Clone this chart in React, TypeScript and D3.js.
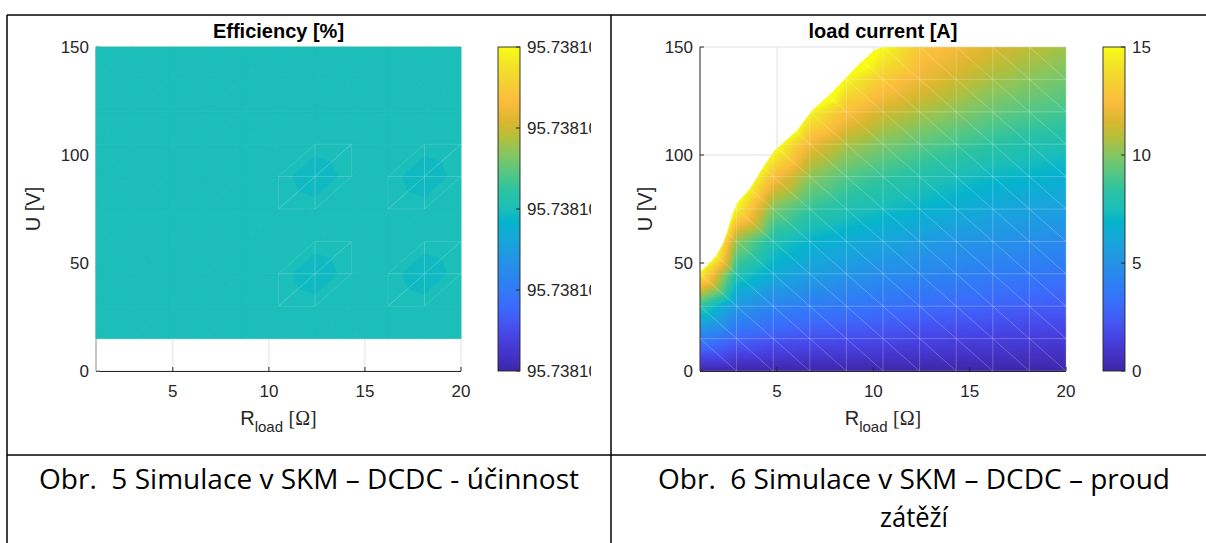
import React, { useMemo } from "react";
import * as d3 from "d3";

// ---- sweep grid -------------------------------------------------------------
// load resistance [Ω] and input voltage [V] of the SKM DC/DC simulation
const loadR = [1, 2.9, 4.8, 6.7, 8.6, 10.5, 12.4, 14.3, 16.2, 18.1, 20];
const voltU = [0, 15, 30, 45, 60, 75, 90, 105, 120, 135, 150];
const effVoltU = [15, 30, 45, 60, 75, 90, 105, 120, 135, 150];

// efficiency [%], one row per voltage in effVoltU, one column per loadR
const efficiency: number[][] = [
  [95.7381, 95.7381, 95.7381, 95.7381, 95.7381, 95.7381, 95.7381, 95.7381, 95.7381, 95.7381, 95.7381],
  [95.7381, 95.7381, 95.7381, 95.7381, 95.7381, 95.7381, 95.7381, 95.7381, 95.7381, 95.7381, 95.7381],
  [95.7381, 95.7381, 95.7381, 95.7381, 95.7381, 95.7381, 95.738099996, 95.7381, 95.7381, 95.738099996, 95.7381],
  [95.7381, 95.7381, 95.7381, 95.7381, 95.7381, 95.7381, 95.7381, 95.7381, 95.7381, 95.7381, 95.7381],
  [95.7381, 95.7381, 95.7381, 95.7381, 95.7381, 95.7381, 95.7381, 95.7381, 95.7381, 95.7381, 95.7381],
  [95.7381, 95.7381, 95.7381, 95.7381, 95.7381, 95.7381, 95.738099996, 95.7381, 95.7381, 95.738099996, 95.7381],
  [95.7381, 95.7381, 95.7381, 95.7381, 95.7381, 95.7381, 95.7381, 95.7381, 95.7381, 95.7381, 95.7381],
  [95.7381, 95.7381, 95.7381, 95.7381, 95.7381, 95.7381, 95.7381, 95.7381, 95.7381, 95.7381, 95.7381],
  [95.7381, 95.7381, 95.7381, 95.7381, 95.7381, 95.7381, 95.7381, 95.7381, 95.7381, 95.7381, 95.7381],
  [95.7381, 95.7381, 95.7381, 95.7381, 95.7381, 95.7381, 95.7381, 95.7381, 95.7381, 95.7381, 95.7381],
];
const effLimits = [95.7380999, 95.7381001];
const effTicks = [95.7380999, 95.73809995, 95.7381, 95.73810005, 95.7381001];

// load current [A], one row per voltage in voltU, one column per loadR.
// Entries above 15 A lie past the current limit and are cut away by the limit edge below.
const loadCurrent: number[][] = [
  [0, 0, 0, 0, 0, 0, 0, 0, 0, 0, 0],
  [4.0, 2.8, 2.3, 2.05, 1.9, 1.8, 1.6, 1.45, 1.35, 1.25, 1.2],
  [8.3, 5.3, 4.3, 3.9, 3.6, 3.35, 3.1, 2.9, 2.7, 2.55, 2.45],
  [14.7, 8.0, 6.4, 5.7, 5.2, 4.8, 4.5, 4.2, 3.9, 3.7, 3.5],
  [20.5, 10.2, 7.8, 6.9, 6.4, 6.0, 5.6, 5.2, 5.0, 4.8, 4.65],
  [26, 14.6, 9.9, 8.5, 7.8, 7.3, 6.9, 6.5, 6.1, 5.9, 5.7],
  [31, 17.5, 12.6, 10.2, 9.1, 8.5, 8.0, 7.5, 7.1, 6.9, 6.7],
  [36, 21, 15.6, 12.1, 10.7, 9.9, 9.3, 8.8, 8.3, 7.9, 7.7],
  [41, 24, 20, 14.8, 12.6, 11.4, 10.7, 10.1, 9.5, 9.1, 8.8],
  [46, 27, 23, 19, 14.8, 13.1, 12.1, 11.3, 10.6, 10.1, 9.7],
  [51, 30, 26, 23, 17.7, 15.0, 13.0, 12.3, 11.6, 11.0, 10.5],
];
// edge of the valid region (current reaches the 15 A limit)
const limitR = [1, 1.5, 1.85, 2.2, 2.45, 2.7, 2.95, 3.6, 4.25, 4.85, 6.05, 6.8, 7.8, 8.6, 9.2, 10.05, 10.5];
const limitU = [46, 50, 53.5, 59, 65.5, 73, 78, 84.5, 94, 102, 111.5, 120.5, 128.5, 136, 141.5, 148.5, 150];
const curLimits = [0, 15];
const curTicks = [0, 5, 10, 15];

const xTicks = [5, 10, 15, 20];
const yTicks = [0, 50, 100, 150];

// ---- colour map (parula) ---------------------------------------------------
const parulaPos = [0, 0.05, 0.1, 0.15, 0.2, 0.27, 0.33, 0.4, 0.46, 0.5, 0.55, 0.6, 0.67, 0.72, 0.77, 0.83, 0.9, 0.95, 1];
const parulaHex = [
  "#3e26a8", "#4433c7", "#4642e2", "#4456f3", "#3b6bfb", "#2d80f3", "#2591e8", "#17a5db", "#05b4cc",
  "#1bbeb8", "#28c2a4", "#4cc78a", "#86c660", "#b3bf3b", "#dbb72f", "#fbbc3d", "#f4d430", "#f3e626", "#f9fb14",
];
const parula = d3
  .scaleLinear<string>()
  .domain(parulaPos)
  .range(parulaHex)
  .interpolate(d3.interpolateRgb)
  .clamp(true);

// ---- layout -----------------------------------------------------------------
const W = 1206;
const H = 543;
const PY0 = 47;
const PY1 = 371;
const FONT = "'Liberation Sans', Arial, Helvetica, sans-serif";
const INK = "#262626";

const L = { x0: 96, x1: 461, cbX: 498, labelX: 40 };
const Rt = { x0: 700, x1: 1066, cbX: 1103, labelX: 652 };
const CBW = 22;

const yScale = d3.scaleLinear().domain([0, 150]).range([PY1, PY0]);
const xLeft = d3.scaleLinear().domain([1, 20]).range([L.x0, L.x1]);
const xRight = d3.scaleLinear().domain([1, 20]).range([Rt.x0, Rt.x1]);

// linear interpolation on the triangulated grid ("\" diagonals)
function currentAt(R: number, U: number): number {
  const n = loadR.length;
  const m = voltU.length;
  const i = Math.max(0, Math.min(n - 2, d3.bisectRight(loadR, R) - 1));
  const j = Math.max(0, Math.min(m - 2, d3.bisectRight(voltU, U) - 1));
  const s = (R - loadR[i]) / (loadR[i + 1] - loadR[i]);
  const t = (U - voltU[j]) / (voltU[j + 1] - voltU[j]);
  const v00 = loadCurrent[j][i];
  const v10 = loadCurrent[j][i + 1];
  const v01 = loadCurrent[j + 1][i];
  const v11 = loadCurrent[j + 1][i + 1];
  if (s + t <= 1) return v00 + s * (v10 - v00) + t * (v01 - v00);
  return v11 + (1 - s) * (v01 - v11) + (1 - t) * (v10 - v11);
}

function AxisFrame({
  x,
  x0,
  x1,
  axisColor,
}: {
  x: d3.ScaleLinear<number, number>;
  x0: number;
  x1: number;
  axisColor: string;
}) {
  return (
    <g>
      <line x1={x0} y1={PY0} x2={x0} y2={PY1} stroke={axisColor} strokeWidth={1} />
      <line x1={x0} y1={PY1 + 0.5} x2={x1} y2={PY1 + 0.5} stroke={INK} strokeWidth={1} />
      {xTicks.map((t) => (
        <line key={"xt" + t} x1={x(t)} x2={x(t)} y1={PY1} y2={PY1 - 4} stroke={INK} strokeWidth={1} />
      ))}
      {yTicks.map((t) => (
        <line key={"yt" + t} x1={x0} x2={x0 + 4} y1={yScale(t)} y2={yScale(t)} stroke={axisColor} strokeWidth={1} />
      ))}
    </g>
  );
}

function Grid({ x, x0, x1 }: { x: d3.ScaleLinear<number, number>; x0: number; x1: number }) {
  return (
    <g stroke="#e1e1e1" strokeWidth={1}>
      {xTicks.map((t) => (
        <line key={"gx" + t} x1={x(t)} x2={x(t)} y1={PY0} y2={PY1} />
      ))}
      {yTicks.map((t) => (
        <line key={"gy" + t} x1={x0} x2={x1} y1={yScale(t)} y2={yScale(t)} />
      ))}
    </g>
  );
}

function TickLabels({ x, x0 }: { x: d3.ScaleLinear<number, number>; x0: number }) {
  return (
    <g fontFamily={FONT} fontSize={17} fill={INK}>
      {xTicks.map((t) => (
        <text key={"xl" + t} x={x(t)} y={397} textAnchor="middle">
          {t}
        </text>
      ))}
      {yTicks.map((t) => (
        <text key={"yl" + t} x={x0 - 7} y={yScale(t)} dy="0.36em" textAnchor="end">
          {t}
        </text>
      ))}
    </g>
  );
}

function AxisLabels({ cx, labelX }: { cx: number; labelX: number }) {
  return (
    <g fontFamily={FONT} fill={INK}>
      <text x={cx} y={425} textAnchor="middle" fontSize={20}>
        <tspan>R</tspan>
        <tspan fontSize={15} dy={7}>
          load
        </tspan>
        <tspan dy={-7}> </tspan>
        <tspan fontFamily="'Liberation Serif', 'Times New Roman', serif">[Ω]</tspan>
      </text>
      <text transform={`translate(${labelX},${(PY0 + PY1) / 2}) rotate(-90)`} textAnchor="middle" fontSize={20}>
        U [V]
      </text>
    </g>
  );
}

function Colorbar({
  id,
  x,
  limits,
  ticks,
  fmt,
  clipRight,
}: {
  id: string;
  x: number;
  limits: number[];
  ticks: number[];
  fmt: (v: number) => string;
  clipRight: number;
}) {
  const s = d3.scaleLinear().domain(limits).range([PY1, PY0]);
  return (
    <g>
      <defs>
        <linearGradient id={id + "-grad"} x1="0" y1="1" x2="0" y2="0">
          {parulaPos.map((p, k) => (
            <stop key={k} offset={p} stopColor={parulaHex[k]} />
          ))}
        </linearGradient>
        <clipPath id={id + "-clip"}>
          <rect x={x + CBW} y={0} width={clipRight - x - CBW} height={H} />
        </clipPath>
      </defs>
      <rect x={x} y={PY0} width={CBW} height={PY1 - PY0} fill={`url(#${id}-grad)`} stroke={INK} strokeWidth={0.9} />
      {ticks.map((t, k) => (
        <line key={k} x1={x + CBW} x2={x + CBW - 4} y1={s(t)} y2={s(t)} stroke={INK} strokeWidth={1} />
      ))}
      <g clipPath={`url(#${id}-clip)`} fontFamily={FONT} fontSize={17} fill={INK}>
        {ticks.map((t, k) => (
          <text key={k} x={x + CBW + 7} y={s(t)} dy="0.36em">
            {fmt(t)}
          </text>
        ))}
      </g>
    </g>
  );
}

function EfficiencyPanel() {
  const x = xLeft;
  const flat = efficiency.flat();
  const base = d3.median(flat) as number;
  const cs = d3.scaleLinear().domain(effLimits).range([0, 1]);
  const col = (v: number) => parula(cs(v));
  const pt = (i: number, j: number): [number, number] => [x(loadR[i]), yScale(effVoltU[j])];
  const val = (i: number, j: number) => efficiency[j][i];

  const tris: { p: [number, number][]; v: number; odd: boolean }[] = [];
  for (let j = 0; j < effVoltU.length - 1; j++) {
    for (let i = 0; i < loadR.length - 1; i++) {
      const a: [number, number][] = [
        [i, j],
        [i + 1, j],
        [i + 1, j + 1],
      ];
      const b: [number, number][] = [
        [i, j],
        [i + 1, j + 1],
        [i, j + 1],
      ];
      for (const tri of [a, b]) {
        const vals = tri.map(([ii, jj]) => val(ii, jj));
        tris.push({
          p: tri.map(([ii, jj]) => pt(ii, jj)),
          v: d3.median(vals) as number,
          odd: vals.some((q) => q !== base),
        });
      }
    }
  }
  // neighbours of a vertex in the "/" triangulation, counter-clockwise,
  // with the fraction of the edge at which the colour band changes
  const nbr = [
    [1, 0, 0.62],
    [1, 1, 0.46],
    [0, 1, 0.64],
    [-1, 0, 0.62],
    [-1, -1, 0.46],
    [0, -1, 0.64],
  ];
  const patches: { d: string; v: number }[] = [];
  efficiency.forEach((row, j) =>
    row.forEach((v, i) => {
      if (v === base) return;
      const [cx, cy] = pt(i, j);
      const pts = nbr
        .filter(([di, dj]) => efficiency[j + dj] && efficiency[j + dj][i + di] !== undefined)
        .map(([di, dj, f]) => {
          const [nx, ny] = pt(i + di, j + dj);
          return [cx + f * (nx - cx), cy + f * (ny - cy)] as [number, number];
        });
      patches.push({ d: "M" + pts.map((p) => p.join(",")).join("L") + "Z", v });
    })
  );
  const triPath = (p: [number, number][]) => "M" + p.map((q) => q.join(",")).join("L") + "Z";

  return (
    <g>
      <Grid x={x} x0={L.x0} x1={L.x1} />
      <AxisFrame x={x} x0={L.x0} x1={L.x1} axisColor="#8c8c8c" />
      <g>
        {tris.map((t, k) => (
          <path key={k} d={triPath(t.p)} fill={col(t.v)} stroke={col(t.v)} strokeWidth={0.8} strokeLinejoin="round" />
        ))}
        {patches.map((p, k) => (
          <path key={"p" + k} d={p.d} fill={col(p.v)} />
        ))}
        {tris
          .filter((t) => t.odd)
          .map((t, k) => (
            <path key={"s" + k} d={triPath(t.p)} fill="none" stroke="#ffffff" strokeOpacity={0.14} strokeWidth={0.8} />
          ))}
      </g>
      <TickLabels x={x} x0={L.x0} />
      <AxisLabels cx={(L.x0 + L.x1) / 2} labelX={L.labelX} />
      <text x={(L.x0 + L.x1) / 2} y={38} textAnchor="middle" fontFamily={FONT} fontWeight="bold" fontSize={20} fill="#000">
        Efficiency [%]
      </text>
      <Colorbar id="cb-eff" x={L.cbX} limits={effLimits} ticks={effTicks} fmt={(v) => v.toFixed(5)} clipRight={591} />
    </g>
  );
}

function CurrentPanel() {
  const x = xRight;
  const rows = useMemo(() => {
    const out: { y: number; stops: { off: number; color: string }[] }[] = [];
    const cs = d3.scaleLinear().domain(curLimits).range([0, 1]).clamp(true);
    for (let y = PY0; y < PY1; y += 2) {
      const U = yScale.invert(y + 1);
      const stops: { off: number; color: string }[] = [];
      for (let px = Rt.x0; px <= Rt.x1 + 0.001; px += 3) {
        const xx = Math.min(px, Rt.x1);
        stops.push({ off: (xx - Rt.x0) / (Rt.x1 - Rt.x0), color: parula(cs(currentAt(x.invert(xx), U))) });
      }
      out.push({ y, stops });
    }
    return out;
  }, []);

  const clipPts: [number, number][] = [
    [loadR[0], voltU[0]],
    ...limitR.map((r, k) => [r, limitU[k]] as [number, number]),
    [loadR[loadR.length - 1], voltU[voltU.length - 1]],
    [loadR[loadR.length - 1], voltU[0]],
  ];
  const clipD = "M" + clipPts.map(([r, u]) => `${x(r)},${yScale(u)}`).join("L") + "Z";

  const mesh: string[] = [];
  loadR.forEach((r) => mesh.push(`M${x(r)},${yScale(voltU[0])}L${x(r)},${yScale(voltU[voltU.length - 1])}`));
  voltU.forEach((u) => mesh.push(`M${x(loadR[0])},${yScale(u)}L${x(loadR[loadR.length - 1])},${yScale(u)}`));
  for (let i = 0; i < loadR.length - 1; i++)
    for (let j = 0; j < voltU.length - 1; j++)
      mesh.push(`M${x(loadR[i])},${yScale(voltU[j + 1])}L${x(loadR[i + 1])},${yScale(voltU[j])}`);

  return (
    <g>
      <defs>
        <clipPath id="cur-clip">
          <path d={clipD} />
        </clipPath>
        {rows.map((r, k) => (
          <linearGradient key={k} id={`cur-row-${k}`} gradientUnits="userSpaceOnUse" x1={Rt.x0} x2={Rt.x1} y1={0} y2={0}>
            {r.stops.map((s, q) => (
              <stop key={q} offset={s.off} stopColor={s.color} />
            ))}
          </linearGradient>
        ))}
      </defs>
      <Grid x={x} x0={Rt.x0} x1={Rt.x1} />
      <g clipPath="url(#cur-clip)">
        {rows.map((r, k) => (
          <rect key={k} x={Rt.x0} y={r.y} width={Rt.x1 - Rt.x0} height={2.6} fill={`url(#cur-row-${k})`} />
        ))}
        <path d={mesh.join("")} fill="none" stroke="#ffffff" strokeOpacity={0.3} strokeWidth={0.8} />
      </g>
      <AxisFrame x={x} x0={Rt.x0} x1={Rt.x1} axisColor={INK} />
      <TickLabels x={x} x0={Rt.x0} />
      <AxisLabels cx={(Rt.x0 + Rt.x1) / 2} labelX={Rt.labelX} />
      <text x={(Rt.x0 + Rt.x1) / 2} y={38} textAnchor="middle" fontFamily={FONT} fontWeight="bold" fontSize={20} fill="#000">
        load current [A]
      </text>
      <Colorbar id="cb-cur" x={Rt.cbX} limits={curLimits} ticks={curTicks} fmt={(v) => String(v)} clipRight={W} />
    </g>
  );
}

export default function App() {
  const capFont = "'Open Sans', 'Noto Sans', sans-serif";
  return (
    <svg
      width={W}
      height={H}
      viewBox={`0 0 ${W} ${H}`}
      style={{ position: "absolute", left: 0, top: 0, display: "block", background: "#fff" }}
    >
      <rect x={0} y={0} width={W} height={H} fill="#fff" />
      <EfficiencyPanel />
      <CurrentPanel />
      {/* table frame */}
      <g stroke="#000" strokeWidth={1.5}>
        <line x1={7} y1={15} x2={W} y2={15} />
        <line x1={7} y1={15} x2={7} y2={H} />
        <line x1={611} y1={15} x2={611} y2={H} />
        <line x1={7} y1={455} x2={W} y2={455} />
      </g>
      <g fontFamily={capFont} fontSize={27} fill="#000">
        <text x={309} y={489} textAnchor="middle" textLength={540} lengthAdjust="spacingAndGlyphs" xmlSpace="preserve">
          {"Obr.  5 Simulace v SKM – DCDC - účinnost"}
        </text>
        <text x={914} y={489} textAnchor="middle" textLength={512} lengthAdjust="spacingAndGlyphs" xmlSpace="preserve">
          {"Obr.  6 Simulace v SKM – DCDC – proud"}
        </text>
        <text x={914} y={527} textAnchor="middle" textLength={68} lengthAdjust="spacingAndGlyphs">
          zátěží
        </text>
      </g>
    </svg>
  );
}
